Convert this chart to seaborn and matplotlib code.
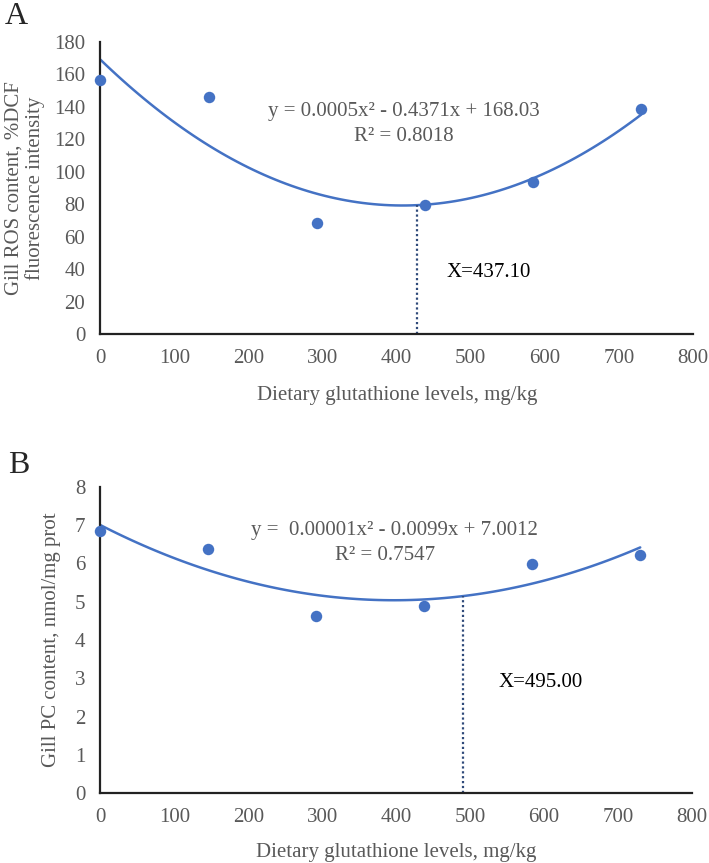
import numpy as np
import matplotlib
matplotlib.use('Agg')
import matplotlib.pyplot as plt
import seaborn as sns

#%% data
gsh_levels = [0, 146, 292, 438, 584, 730]
ros_values = [156.5, 146.3, 68.2, 79.5, 93.5, 138.5]
pc_values = [6.85, 6.38, 4.63, 4.90, 5.98, 6.22]

ros_eq = 'y = 0.0005x² - 0.4371x + 168.03'
ros_r2 = 'R² = 0.8018'
ros_opt = 'X=437.10'
ros_line_x = 427

pc_eq = 'y =  0.00001x² - 0.0099x + 7.0012'
pc_r2 = 'R² = 0.7547'
pc_opt = 'X=495.00'
pc_line_x = 490

x_ticks = [0, 100, 200, 300, 400, 500, 600, 700, 800]

#%% style
sns.set_theme(style='white')
plt.rcParams['font.family'] = ['Liberation Serif', 'DejaVu Serif']

blue = '#4472C4'
grey = '#595959'
fs = 15

fig = plt.figure(figsize=(7.09, 8.63), dpi=100)
axA = fig.add_axes([0.1417, 0.613, 0.8357, 0.3384])
axB = fig.add_axes([0.1417, 0.0811, 0.8343, 0.3546])


def draw_panel(ax, x, y, ymax, ystep, line_x):
    sns.regplot(x=x, y=y, order=2, ci=None, ax=ax, truncate=True,
                scatter_kws=dict(s=68, color=blue, alpha=1, zorder=3,
                                 clip_on=False, linewidths=0),
                line_kws=dict(color=blue, lw=1.8, clip_on=False))
    # dotted drop line from the fitted curve to the axis
    coef = np.polyfit(x, y, 2)
    ax.vlines(line_x, 0, np.polyval(coef, line_x), colors='#2F4A7A',
              linestyles=(0, (1, 1.2)), lw=1.6)
    ax.set_xlim(0, 800)
    ax.set_ylim(0, ymax)
    ax.set_xticks(x_ticks)
    ax.set_yticks(np.arange(0, ymax + ystep / 2, ystep))
    ax.tick_params(axis='both', length=0, labelsize=fs, labelcolor=grey)
    ax.tick_params(axis='x', pad=11)
    ax.tick_params(axis='y', pad=11)
    for s in ['top', 'right']:
        ax.spines[s].set_visible(False)
    for s in ['left', 'bottom']:
        ax.spines[s].set_color('#222222')
        ax.spines[s].set_linewidth(1.6)
    ax.set_xlabel('Dietary glutathione levels, mg/kg', fontsize=fs, color=grey)
    ax.xaxis.label.set_va('center')


#%% panel A
draw_panel(axA, gsh_levels, ros_values, 180, 20, ros_line_x)
axA.set_ylabel('Gill ROS content, %DCF\nfluorescence intensity',
               fontsize=fs, color=grey, linespacing=1.15)
axA.yaxis.label.set_va('center')
axA.yaxis.set_label_coords(-0.128, 0.5)
axA.xaxis.set_label_coords(0.5, -0.209)
axA.text(409, 137, ros_eq, ha='center', va='center', fontsize=fs, color=grey)
axA.text(409, 121.5, ros_r2, ha='center', va='center', fontsize=fs, color=grey)
axA.text(467, 37.6, ros_opt, ha='left', va='center', fontsize=fs, color='black')

#%% panel B
draw_panel(axB, gsh_levels, pc_values, 8, 1, pc_line_x)
axB.set_ylabel('Gill PC content, nmol/mg prot', fontsize=fs, color=grey)
axB.yaxis.label.set_va('center')
axB.yaxis.set_label_coords(-0.0835, 0.5)
axB.xaxis.set_label_coords(0.5, -0.193)
axB.text(397, 6.87, pc_eq, ha='center', va='center', fontsize=fs, color=grey)
axB.text(385, 6.21, pc_r2, ha='center', va='center', fontsize=fs, color=grey)
axB.text(539, 2.9, pc_opt, ha='left', va='center', fontsize=fs, color='black')

fig.text(0.007, 0.972, 'A', fontsize=23, ha='left', va='baseline')
fig.text(0.011, 0.452, 'B', fontsize=23, ha='left', va='baseline')

fig.savefig('out.png', dpi=100)
